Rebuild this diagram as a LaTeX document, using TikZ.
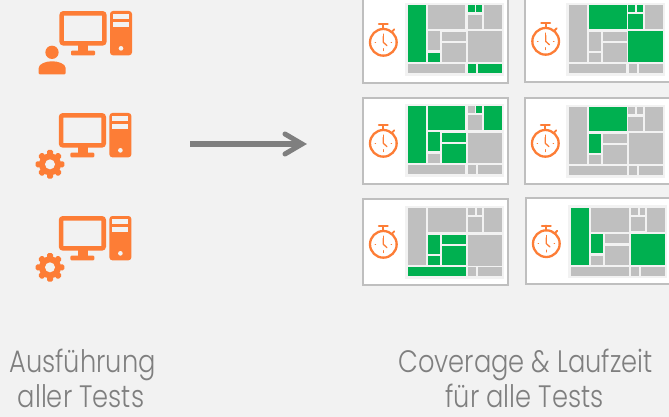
\documentclass[tikz,border=0pt]{standalone}
\usepackage{fontspec}
\newfontfamily\labfont[FakeStretch=0.83]{Poppins Light}
\definecolor{bgc}{HTML}{F2F2F2}
\definecolor{tg}{HTML}{00B050}
\definecolor{tk}{HTML}{BFBFBF}
\definecolor{org}{HTML}{FD7D36}
\definecolor{txt}{HTML}{7F7F7F}
\tikzset{
  cardbox/.style={fill=white,draw=tk,line width=2pt},
  panelbox/.style={fill=bgc},
  orangefill/.style={fill=org},
  orangeline/.style={draw=org,line cap=round},
  caption/.style={font=\labfont\fontsize{31}{31}\selectfont,text=txt,anchor=base,inner sep=0pt},
  zoomed/.style={shift={#1},x=0.33333pt,y=-0.33333pt}
}
\newcommand\cg[4]{\fill[tg] (#1,#2) rectangle (#3,#4);}
\newcommand\ck[4]{\fill[tk] (#1,#2) rectangle (#3,#4);}
\newcommand\stopw[2]{%
  \begin{scope}[shift={(#1,#2)}]
    \draw[orangeline,line width=2.3pt] (0,0) circle (40);
    \draw[orangeline,line width=2.3pt] (-13,-54) -- (13,-54);
    \draw[orangeline,line width=2.3pt] (0,-54) -- (0,-42);
    \draw[orangeline,line width=1.8pt] (27,-33) -- (33,-39);
    \draw[orangeline,line width=1pt] (0,-25) -- (0,-19);
    \draw[orangeline,line width=1pt] (0,19) -- (0,25);
    \draw[orangeline,line width=1pt] (-25,0) -- (-23,0);
    \draw[orangeline,line width=1pt] (23,0) -- (25,0);
    \draw[orangeline,line width=1.3pt,line join=round] (0,-18) -- (0,0) -- (11,10);
  \end{scope}}
\newcommand\pcicon{%
  \draw[org,line width=4.6pt,rounded corners=2pt] (95,40) rectangle (223,130);
  \fill[orangefill] (145,135) rectangle (175,153);
  \fill[orangefill,rounded corners=1pt] (123,152) rectangle (195,166);
  \fill[orangefill,rounded corners=3pt] (240,33) rectangle (306,166);
  \fill[bgc] (249,42) rectangle (297,57);
  \fill[bgc] (249,66) rectangle (297,81);
  \fill[bgc] (273,145) circle (7);}
\newcommand\gearicon[2]{%
  \begin{scope}[shift={(#1,#2)}]
    \fill[orangefill] (0,0) circle (33);
    \foreach \a in {0,45,...,315}
      \fill[orangefill,rounded corners=1.5pt,rotate=\a] (-9,-43) rectangle (9,-25);
    \fill[bgc] (0,0) circle (15);
  \end{scope}}
\begin{document}
\begin{tikzpicture}[x=1pt,y=-1pt]
\useasboundingbox (0,0) rectangle (669,417);
\clip (0,0) rectangle (669,417);
\fill[bgc] (0,0) rectangle (669,417);

% computers
\begin{scope}[zoomed={(30,0)}]
  \pcicon
  \fill[orangefill] (66,157) circle (20);
  \fill[orangefill,rounded corners=1pt] (26,223) -- (26,207) .. controls (26,191) and (50,184) .. (66,184) .. controls (83,184) and (107,191) .. (107,207) -- (107,223) -- cycle;
\end{scope}
\begin{scope}[zoomed={(29.4,102)}]
  \pcicon
\end{scope}
\begin{scope}[zoomed={(30,100)}]
  \gearicon{60}{193}
\end{scope}
\begin{scope}[zoomed={(29.4,205)}]
  \pcicon
\end{scope}
\begin{scope}[zoomed={(30,203)}]
  \gearicon{60}{193}
\end{scope}

% arrow
\coordinate (arrowstart) at (190,144);
\coordinate (arrowend) at (298,144);
\coordinate (tipup) at (285,134);
\coordinate (tip) at (302,144);
\coordinate (tipdown) at (285,154);
\draw[txt,line width=5.6pt] (arrowstart) -- (arrowend);
\draw[txt,line width=5pt,line cap=round,line join=miter] (tipup) -- (tip) -- (tipdown);

% card 1
\begin{scope}[zoomed={(355,0)}]
  \draw[cardbox] (24,-40) rectangle (460,250);
  \fill[panelbox] (150,10) rectangle (447,228);
  \cg{159}{15}{213}{186} \ck{219}{15}{330}{87} \cg{339}{15}{360}{36} \cg{363}{15}{381}{36}
  \ck{339}{45}{381}{87} \ck{387}{15}{441}{87} \ck{219}{93}{255}{150} \cg{219}{159}{255}{186}
  \ck{261}{96}{333}{123} \ck{261}{129}{333}{186} \ck{339}{93}{441}{186}
  \ck{159}{192}{330}{219} \cg{339}{192}{363}{219} \cg{369}{192}{441}{219}
  \stopw{85}{127}
\end{scope}
% card 2
\begin{scope}[zoomed={(515,0)}]
  \draw[cardbox] (30,-40) rectangle (490,247);
  \fill[panelbox] (153,10) rectangle (450,228);
  \ck{162}{15}{216}{186} \cg{222}{15}{336}{87} \cg{339}{15}{360}{36} \cg{366}{15}{384}{36}
  \cg{339}{42}{384}{87} \ck{390}{15}{444}{87} \ck{222}{96}{258}{153} \ck{222}{159}{258}{186}
  \ck{264}{96}{336}{123} \ck{264}{129}{336}{186} \cg{339}{93}{444}{186}
  \ck{162}{192}{333}{219} \ck{342}{192}{366}{219} \ck{372}{192}{444}{219}
  \stopw{92}{124}
\end{scope}
% card 3
\begin{scope}[zoomed={(355,92)}]
  \draw[cardbox] (24,18) rectangle (460,277);
  \fill[panelbox] (150,36) rectangle (447,255);
  \cg{159}{42}{213}{213} \cg{219}{42}{330}{114} \ck{339}{42}{360}{63} \cg{363}{42}{381}{63}
  \ck{339}{69}{381}{114} \cg{387}{42}{441}{114} \cg{219}{120}{255}{177} \ck{219}{186}{255}{213}
  \cg{261}{123}{333}{150} \cg{261}{156}{333}{213} \ck{339}{123}{441}{213}
  \ck{159}{219}{330}{246} \ck{339}{219}{363}{246} \ck{369}{219}{441}{246}
  \stopw{85}{154}
\end{scope}
% card 4
\begin{scope}[zoomed={(515,92)}]
  \draw[cardbox] (30,18) rectangle (490,277);
  \fill[panelbox] (153,39) rectangle (450,258);
  \ck{162}{45}{216}{216} \cg{222}{45}{336}{117} \ck{339}{45}{360}{66} \ck{366}{45}{384}{66}
  \ck{339}{75}{384}{117} \ck{390}{45}{444}{117} \cg{222}{126}{258}{183} \ck{222}{189}{258}{216}
  \ck{264}{126}{336}{153} \ck{264}{159}{336}{216} \ck{342}{123}{444}{216}
  \ck{162}{222}{336}{249} \ck{342}{222}{366}{249} \ck{372}{222}{444}{249}
  \stopw{91}{154}
\end{scope}
% card 5
\begin{scope}[zoomed={(355,192)}]
  \draw[cardbox] (24,20) rectangle (460,279);
  \fill[panelbox] (150,42) rectangle (447,261);
  \ck{159}{48}{213}{219} \ck{219}{48}{333}{120} \ck{339}{48}{360}{69} \ck{366}{48}{381}{69}
  \ck{339}{75}{381}{120} \ck{387}{48}{441}{120} \cg{219}{129}{255}{186} \cg{219}{192}{255}{219}
  \cg{261}{129}{333}{156} \cg{261}{162}{333}{219} \ck{339}{129}{441}{222}
  \cg{159}{225}{333}{252} \ck{339}{225}{363}{252} \ck{369}{225}{441}{252}
  \stopw{85}{157}
\end{scope}
% card 6
\begin{scope}[zoomed={(515,192)}]
  \draw[cardbox] (33,18) rectangle (490,277);
  \fill[panelbox] (159,39) rectangle (456,258);
  \cg{168}{48}{222}{219} \ck{228}{48}{342}{120} \ck{348}{48}{369}{69} \ck{375}{48}{390}{69}
  \ck{348}{75}{390}{117} \ck{396}{48}{450}{120} \cg{228}{126}{264}{183} \ck{228}{192}{264}{219}
  \ck{270}{126}{342}{153} \ck{270}{162}{342}{219} \cg{348}{126}{450}{219}
  \ck{168}{225}{342}{252} \ck{348}{225}{372}{252} \ck{378}{225}{450}{252}
  \stopw{94}{155}
\end{scope}

% captions
\node[caption] (cap1) at (82.5,372) {Ausführung};
\node[caption] (cap2) at (81,407) {aller Tests};
\node[caption] (cap3) at (525.5,372) {Coverage \& Laufzeit};
\node[caption] (cap4) at (524.5,407) {für alle Tests};
\end{tikzpicture}
\end{document}
